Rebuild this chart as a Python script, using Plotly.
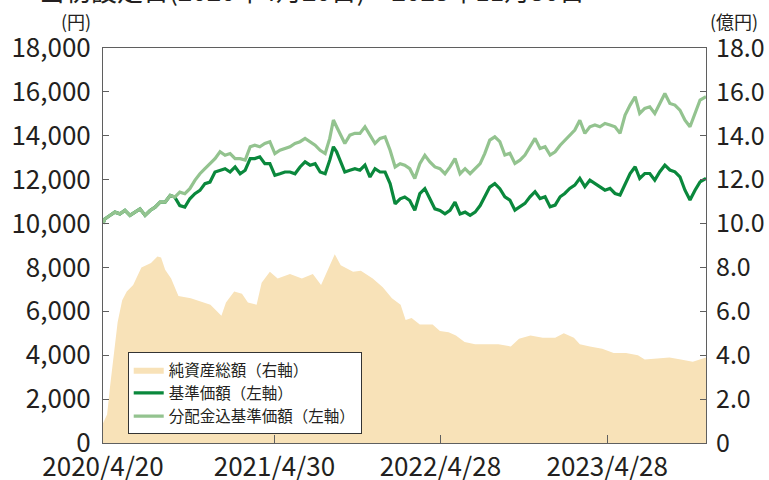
import pandas as pd
import plotly.graph_objects as go

# ---- data ----
START = "2020-04-20"
# days since the fund's launch (2020/4/20) for the two price lines
line_days = [0, 4, 15, 26, 37, 48, 59, 70, 81, 92, 103, 114, 125, 136, 147, 157,
             168, 179, 190, 201, 212, 223, 234, 245, 256, 267, 278, 289, 300, 311,
             322, 332, 343, 354, 365, 376, 387, 398, 409, 420, 431,
             442, 453, 464, 475, 486, 496, 504, 511, 518, 529, 540, 551, 562, 573,
             584, 595, 606, 617, 628, 639, 650, 660, 671, 682, 693, 704, 715, 726,
             737, 748, 759, 770, 781, 792, 803, 814, 825, 835, 846, 857, 868,
             879, 890, 901, 912, 923, 934, 945, 956, 967, 978, 989, 1000, 1010,
             1021, 1032, 1043, 1054, 1065, 1076, 1087, 1098, 1109, 1120, 1131,
             1142, 1153, 1164, 1174, 1185, 1196, 1207, 1218, 1229, 1240, 1251,
             1262, 1273, 1284, 1295, 1306, 1319]

# 分配金込基準価額 (yen)
nav_with_div = [10000, 10210, 10366, 10520, 10442, 10600, 10370, 10519, 10670, 10370,
                10595, 10748, 10980, 10980, 11280, 11206, 11430, 11359, 11590, 11970,
                12270, 12500, 12730, 12960, 13270, 13110, 13190, 12960, 12960, 12890,
                13500, 13570, 13500, 13650, 13730, 13190, 13340, 13420, 13500, 13650,
                13730,
                13880, 13730, 13570, 13340, 13190, 13880, 14720, 14410, 14110, 13650,
                14030, 14110, 14110, 14410, 14030, 13650, 13880, 13950, 13340, 12580,
                12730, 12660, 12500, 12050, 12730, 13110, 12810, 12580, 12500, 12270,
                12580, 12960, 12270, 12500, 12270, 12500, 12730, 13190, 13800, 13950,
                13730,
                13120, 13200, 12740, 12890, 13120, 13500, 13880, 13420, 13500, 13120,
                13270, 13570, 13800, 14030, 14260, 14710, 14110, 14410, 14490, 14410,
                14560, 14490, 14410, 14110, 14940, 15400, 15780, 15020, 15250, 15320,
                15020, 15470, 15930, 15470, 15400, 15170, 14710, 14410, 15020, 15630,
                15780]

# 基準価額 (yen)
nav = [10000, 10210, 10366, 10520, 10442, 10600, 10370, 10519, 10670, 10370,
       10595, 10748, 10980, 10980, 11280, 11206, 10820, 10750, 11130, 11360,
       11510, 11820, 11890, 12350, 12430, 12500, 12350, 12580, 12270, 12430,
       12960, 12960, 13040, 12730, 12730, 12200, 12270, 12350, 12350, 12270,
       12580,
       12810, 12660, 12730, 12350, 12270, 12890, 13500, 13270, 12890, 12350,
       12430, 12500, 12430, 12660, 12120, 12500, 12350, 12350, 11820, 10900,
       11130, 11210, 11050, 10600, 11360, 11590, 11130, 10670, 10600, 10440,
       10600, 10980, 10440, 10520, 10370, 10520, 10820, 11210, 11660, 11820,
       11590,
       11220, 11070, 10610, 10760, 10920, 11220, 11450, 11140, 11220, 10760,
       10840, 11220, 11370, 11600, 11750, 12060, 11680, 11980, 11830, 11680,
       11520, 11600, 11370, 11300, 11830, 12280, 12590, 12060, 12280, 12280,
       11980, 12360, 12660, 12440, 12360, 12130, 11520, 11070, 11520, 11900,
       12060]

asset_dates = ["2020-04-20", "2020-04-29", "2020-05-05", "2020-05-14", "2020-05-22", "2020-06-01",
               "2020-06-11", "2020-06-25", "2020-07-13", "2020-08-03", "2020-08-17", "2020-08-25",
               "2020-09-03", "2020-09-16", "2020-10-02", "2020-10-29", "2020-11-25", "2020-12-11",
               "2021-01-04", "2021-01-14", "2021-02-01", "2021-02-18", "2021-03-03", "2021-03-22",
               "2021-04-02", "2021-04-20", "2021-05-07", "2021-06-03", "2021-06-29", "2021-07-23",
               "2021-08-10", "2021-08-23", "2021-09-09", "2021-09-22", "2021-10-19", "2021-11-05",
               "2021-12-01", "2021-12-23", "2022-01-12", "2022-01-31", "2022-02-11", "2022-02-24",
               "2022-03-14", "2022-04-11", "2022-04-27", "2022-05-16", "2022-06-01", "2022-06-20",
               "2022-07-13", "2022-08-08", "2022-09-02", "2022-09-29", "2022-10-17", "2022-11-11",
               "2022-12-08", "2023-01-04", "2023-01-23", "2023-02-14", "2023-02-27", "2023-03-21",
               "2023-04-17", "2023-05-12", "2023-06-08", "2023-07-04", "2023-07-19", "2023-08-15",
               "2023-09-11", "2023-10-06", "2023-11-01", "2023-11-30"]

# 純資産総額 (億円)
net_assets = [0.9, 1.3, 2.5, 4.0, 5.5, 6.5,
              6.9, 7.2, 8.0, 8.2, 8.5, 8.45,
              7.9, 7.5, 6.7, 6.6, 6.4, 6.3,
              5.8, 6.4, 6.9, 6.8, 6.4, 6.3,
              7.3, 7.8, 7.5, 7.7, 7.5, 7.7,
              7.2, 7.8, 8.6, 8.1, 7.8, 7.85,
              7.5, 7.1, 6.6, 6.3, 5.6, 5.7,
              5.4, 5.4, 5.1, 5.05, 4.9, 4.6,
              4.5, 4.5, 4.5, 4.4, 4.75, 4.9,
              4.8, 4.8, 5.0, 4.8, 4.5, 4.4,
              4.3, 4.1, 4.1, 4.0, 3.8, 3.85,
              3.9, 3.8, 3.7, 3.9]

left_ticks = [0, 2000, 4000, 6000, 8000, 10000, 12000, 14000, 16000, 18000]
left_ticktext = ["0", "2,000", "4,000", "6,000", "8,000", "10,000", "12,000", "14,000", "16,000", "18,000"]
right_ticks = [0, 2, 4, 6, 8, 10, 12, 14, 16, 18]
right_ticktext = ["0", "2.0", "4.0", "6.0", "8.0", "10.0", "12.0", "14.0", "16.0", "18.0"]
x_ticks = ["2020-04-20", "2021-04-30", "2022-04-28", "2023-04-28"]
x_ticktext = ["2020/4/20", "2021/4/30", "2022/4/28", "2023/4/28"]

line_dates = (pd.Timestamp(START) + pd.to_timedelta(line_days, unit="D")).strftime("%Y-%m-%d").tolist()

FONT = "Noto Sans CJK JP"
TXT = "#231f20"
AX = "#5f5f5f"

fig = go.Figure()
fig.add_trace(go.Scatter(x=asset_dates, y=net_assets, name="純資産総額（右軸）",
                         mode="lines", line=dict(width=0, color="#f8e2b8"),
                         fill="tozeroy", fillcolor="#f8e2b8", yaxis="y"))
fig.add_trace(go.Scatter(x=line_dates, y=nav, name="基準価額（左軸）",
                         mode="lines", line=dict(width=3.2, color="#0a883c"), yaxis="y2"))
fig.add_trace(go.Scatter(x=line_dates, y=nav_with_div, name="分配金込基準価額（左軸）",
                         mode="lines", line=dict(width=3.2, color="#93c38f"), yaxis="y2"))

fig.update_layout(
    width=769, height=480,
    margin=dict(l=103, r=63, t=48, b=37),
    paper_bgcolor="white", plot_bgcolor="white",
    font=dict(family=FONT, color=TXT),
    showlegend=True,
    legend=dict(x=0.041, y=0.23, xanchor="left", yanchor="top",
                bgcolor="white", bordercolor="#333333", borderwidth=1,
                font=dict(size=15.5, family=FONT, color=TXT),
                itemwidth=30, tracegroupgap=0),
    xaxis=dict(type="date", range=["2020-04-20", "2023-11-30"],
               tickvals=x_ticks, ticktext=x_ticktext,
               ticks="inside", ticklen=8, tickcolor=AX,
               showline=True, linecolor=AX, linewidth=1, mirror=True,
               showgrid=False, zeroline=False, automargin=False,
               tickfont=dict(size=26, family=FONT, color=TXT), ticklabelstandoff=1),
    yaxis=dict(range=[0, 18], side="right",
               tickvals=right_ticks, ticktext=right_ticktext,
               ticks="inside", ticklen=6, tickcolor=AX,
               showline=True, linecolor=AX, linewidth=1,
               showgrid=False, zeroline=False, automargin=False,
               tickfont=dict(size=25, family=FONT, color=TXT), ticklabelstandoff=4),
    yaxis2=dict(range=[0, 18000], side="left", overlaying="y",
                tickvals=left_ticks, ticktext=left_ticktext,
                ticks="inside", ticklen=6, tickcolor=AX,
                showline=True, linecolor=AX, linewidth=1,
                showgrid=False, zeroline=False, automargin=False,
                tickfont=dict(size=26, family=FONT, color=TXT), ticklabelstandoff=6),
    annotations=[
        dict(text="当初設定日(2020年4月20日)～2023年11月30日", xref="paper", yref="paper",
             x=-0.109, y=1.097, xanchor="left", yanchor="bottom", showarrow=False,
             font=dict(size=26, family=FONT, color=TXT)),
        dict(text="(円)", xref="paper", yref="paper", x=-0.045, y=1.068,
             xanchor="center", yanchor="middle", showarrow=False,
             font=dict(size=18, family=FONT, color=TXT)),
        dict(text="(億円)", xref="paper", yref="paper", x=1.046, y=1.068,
             xanchor="center", yanchor="middle", showarrow=False,
             font=dict(size=18, family=FONT, color=TXT)),
    ],
)

fig.write_html("out.html", config={"displayModeBar": False},
               post_script="document.body.style.margin='0';document.body.style.overflow='hidden';")
